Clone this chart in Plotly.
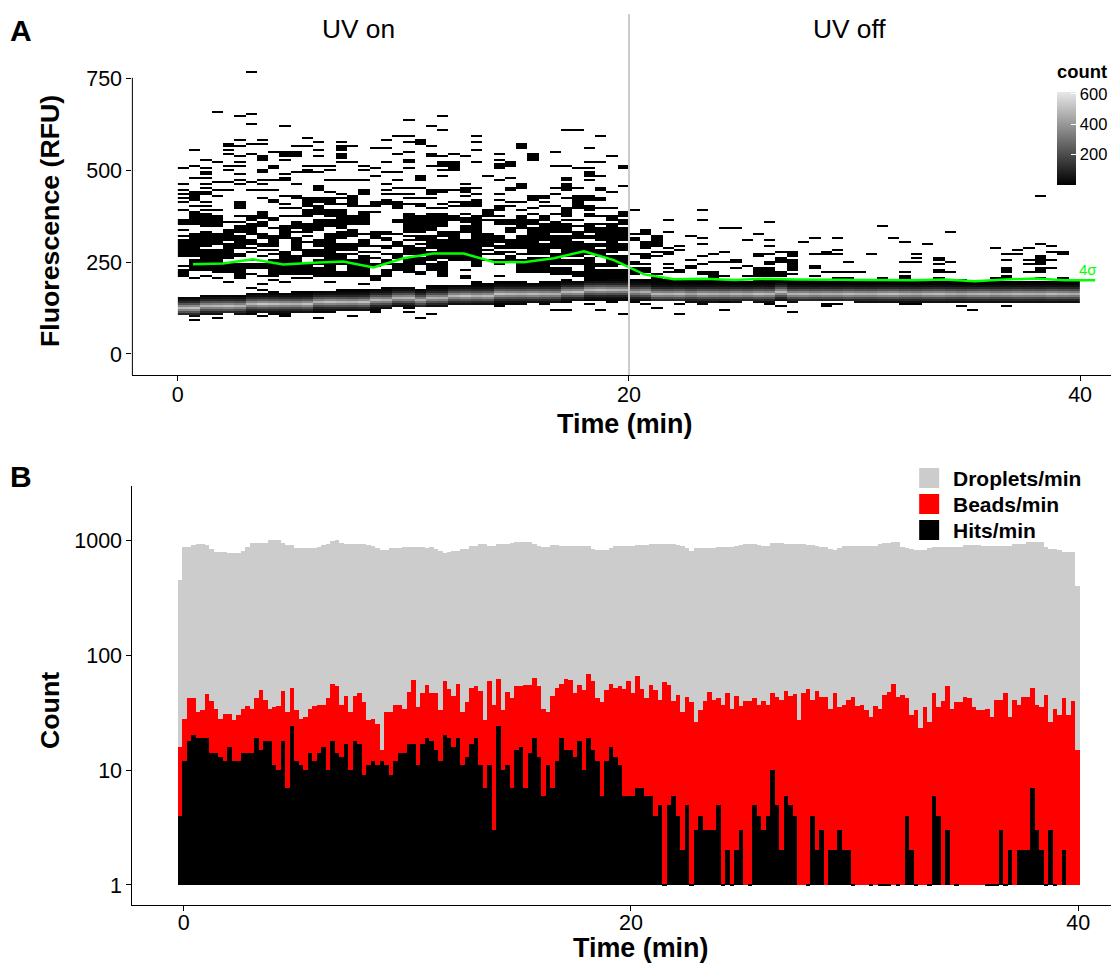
import plotly.graph_objects as go

W, H = 1112, 964
FONT = "Liberation Sans"

# ---------- Panel A data: 0.5-min columns, RFU readings of isolated cells (single value or (high, low) run)
column_minutes = 0.5
rfu_bin = 5.4545
sparse_cells = [
 [507,461,449,436,425,413,395,(365,355),337,323,(312,290),(283,265),240,230,(222,215)],
 [556,515,481,(442,418),402,(388,366),(360,352),(325,288),(283,265),(256,228),208,103,93],
 [530,505,(495,490),478,462,452,(442,435),415,405,395,(382,362),(356,350),(330,295),(285,262),(255,228),215],
 [662,526,470,449,431,395,(378,350),(328,300),(285,255),(252,225),208,100],
 [575,565,555,545,515,500,470,449,358,(338,310),300,(292,262),(248,222),195],
 [647,581,565,541,526,511,489,476,465,(415,398),375,360,(347,330),(320,290),(275,265),(245,205)],
 [768,652,627,572,547,470,445,(375,365),(355,343),(337,325),(311,302),290,279,258,(247,234),220,178],
 [581,572,(538,529),(502,494),476,461,449,425,(388,373),(360,347),(325,315),(300,292),282,265,(243,233),215,190,173,103],
 [552,515,506,476,449,(422,415),(373,365),343,(320,297),286,274,(256,238),(232,215),202],
 [622,(552,542),531,490,(482,474),431,411,397,375,(347,318),(279,262),(256,247),(238,220),199,103],
 [565,(549,538),497,465,(431,425),397,379,(360,343),333,(318,300),(293,282),(265,243),(238,220),208],
 [591,565,515,(503,495),(425,406),(393,379),(356,333),322,306,(282,265),247,(238,220),206,167],
 [576,554,538,511,497,(458,447),(425,415),(402,384),(365,338),(311,293),(283,265),(256,243),(233,215),167,97],
 [513,504,474,443,(425,410),(393,379),(365,347),(329,315),(311,290),(284,275),(265,247),(238,215),195],
 [576,(567,558),(543,534),522,474,435,424,409,(394,374),(370,343),(333,318),(300,283),(270,256),247,(222,211)],
 [565,522,474,431,(425,406),(375,352),(338,320),(300,283),274,(256,247),(238,210),103],
 [515,504,474,(447,438),403,(388,374),(370,352),329,(311,293),279,(265,247),(238,220),211,190],
 [561,506,485,(415,403),385,(333,315),297,279,261,(247,238),(211,202),115],
 [581,561,522,497,465,447,435,(421,411),(333,327),(315,311),(297,288),270,(256,247),(229,220),215],
 [597,547,497,474,451,434,(413,400),(365,358),329,(306,293),(274,261),(247,227)],
 [636,597,576,552,(531,522),506,454,435,424,409,(384,370),(364,356),(349,333),324,311,(297,270),(260,240),(234,225),115],
 [(582,572),(485,476),454,424,(411,404),(379,362),(356,333),(324,311),302,(288,270),(264,247),(224,218),97],
 [620,565,(547,540),515,(447,438),427,400,(384,366),(360,338),(324,306),(300,288),(279,256),(247,229),108],
 [647,611,540,(522,515),500,485,(447,440),410,397,(384,373),(363,347),(333,320),(311,302),(293,275),(269,261),(252,235),(229,215)],
 [547,(526,503),447,415,402,(379,365),(333,300),(294,256)],
 [540,465,(451,443),433,(415,406),384,(370,361),(347,333),(311,275),(265,256),229,(215,206)],
 [597,576,556,526,454,438,(420,404),(379,347),(343,325),(320,315),(311,284),(279,238)],
 [485,(393,379),365,(325,315),(311,293),283,270,256],
 [547,531,(517,506),474,438,422,(406,393),379,(365,352),(322,306),(297,288),(279,270),(256,247),213],
 [(522,511),479,(454,449),415,402,(365,352),(343,333),(311,288),279,(265,252)],
 [(572,561),(461,452),415,395,(379,361),(352,343),(324,306),(300,288),270,256,(247,225)],
 [(543,531),(429,420),397,384,(365,352),(343,329),(322,300),(294,275),(260,225)],
 [(433,426),415,406,(379,365),(352,338),(333,311),(302,275),(260,225)],
 [549,515,454,438,406,384,(360,333),(324,288),(274,247),(233,220),197,122],
 [612,515,(482,472),(461,447),426,(397,374),364,(352,333),(324,296),(290,266),(256,243),(233,220),203,143,118],
 [612,506,454,(429,420),(412,397),367,347,(333,315),(306,266),(256,247),(225,210)],
 [561,526,506,(497,484),474,(429,420),(402,393),(384,374),(356,333),(324,315),(300,270),(264,202),136],
 [597,522,485,(454,447),(425,418),397,375,356,(343,311),(302,293),(284,266),(247,238),(229,202),122],
 [541,440,397,(375,365),(352,333),(329,300),(294,279),(265,238),(229,202),143],
 [(515,506),458,(388,374),(365,356),(343,311),(302,284),(265,247),(229,202),108],
 [390,326,(315,309),274,(250,245),(234,218)],
 [(336,325),(306,291),(270,263),245,(234,226),202,138],
 [(320,313),(306,297),279,265,218,127],
 [365,335,288,(279,273),245,234,224],
 [293,284,(229,222),138,108],
 [320,259,(241,232)],
 [395,365,315,300,268,243,(225,218)],
 [270,250,(225,206)],
 [345,279,250,215,142,118],
 [345,(259,250),234],
 [309,240,213],
 [325,(275,268),(235,215),202],
 [360,309,295,274,(250,243),(233,215),138],
 [279,(260,249),(225,210),129],
 [(276,268),(256,228),220,142,113],
 [305],
 [315,274,(241,232),214],
 [(279,273),224,(138,132)],
 [315,284,274,224,208,134],
 [250,224,208],
 [224],
 [270],
 [350,(209,202)],
 [314],
 [304,250,224,(215,203),139],
 [274,264,250,139],
 [300,140],
 [264,254,243,(230,221),209],
 [330,250,224],
 [204,129],
 [140,118],
 [],
 [290,209],
 [274,259,(236,226),(214,206),133],
 [283,270],
 [290,259,244,224],
 [430,300,(265,243),(233,226),209],
 [294,279,259,233],
 [279,270,209],
 [],
]

# Main droplet band, per 0.5-min column (RFU)
band_center = [127,127,129,129,131,131,136,134,136,136,138,138,141,141,143,143,143,147,147,150,
               150,149,155,155,156,156,156,158,161,163,163,163,165,165,170,170,173,175,175,175,
               170,170,165,164,165,163,163,165,165,163,165,164,164,170,163,162,165,165,165,165,
               165,165,165,164,165,165,166,165,165,164,165,165,165,165,165,164,165,165,165,165]
band_top = [150,150,156,156,156,156,161,165,167,161,167,164,170,170,173,176,173,175,179,182,
            179,176,184,184,185,188,197,193,194,194,194,191,194,194,194,196,196,197,200,200,
            200,197,206,202,202,202,203,202,200,202,195,197,202,202,202,202,202,202,202,202,
            197,197,197,197,197,197,197,197,197,197,197,197,197,197,197,197,197,197,197,197]
band_bottom = [111,106,111,111,114,111,111,115,111,111,115,115,115,115,121,121,121,120,124,129,
               125,129,131,131,134,136,138,138,131,138,138,143,138,143,143,147,147,147,149,147,
               143,147,147,147,145,143,138,143,147,143,147,143,143,145,143,147,147,147,147,147,
               142,142,142,142,142,142,142,142,142,142,142,142,142,142,142,142,142,142,142,142]
band_peak = [490,510,470,480,500,470,480,520,500,480,470,510,470,500,480,470,500,480,460,470,
             480,450,470,460,480,510,470,490,500,480,470,490,470,460,480,500,470,490,470,460,
             420,460,480,470,490,430,480,470,450,480,460,500,480,490,470,480,450,470,460,490,
             470,460,490,500,470,450,480,490,460,440,470,480,450,460,480,470,460,490,470,450]
band_profile = {0:1.0, 1:0.72, -1:0.72, 2:0.45, -2:0.45, 3:0.22, -3:0.22, 4:0.09, -4:0.09, 5:0.03, -5:0.03}

# 4-sigma threshold (time in min, RFU)
sigma_time = [0.67,2,3.33,4.67,6,7.33,8.67,10,11.33,12.67,14,15.33,16.67,18,19.33,20.67,22,23.33,24.67,26,
              27.33,28.67,30,31.33,32.67,34,35.33,36.67,38,39.33,40.67]
sigma_rfu = [245,247,258,244,249,252,236,261,274,274,251,250,261,280,256,217,204,205,202,205,
             203,202,201,201,201,203,198,203,206,201,201]

# ---------- Panel B data: counts per 0.2-min bin
droplets = [447,875,875,905,923,923,905,830,791,791,780,776,776,776,807,875,948,948,948,948,
            993,993,993,935,905,905,860,847,847,847,860,863,905,923,980,993,935,917,917,917,
            917,917,905,893,860,818,818,847,847,847,863,863,863,863,863,850,863,830,800,776,
            780,807,807,830,840,880,893,917,917,880,880,917,917,925,950,967,967,967,967,920,
            893,863,863,905,905,893,893,893,893,893,893,893,840,818,818,818,860,887,887,887,
            887,887,900,900,900,923,923,923,923,923,915,905,880,847,807,847,847,847,847,860,
            863,863,863,863,880,905,923,923,923,900,887,887,935,935,935,925,923,923,923,917,
            905,905,880,863,863,830,818,847,895,895,895,895,895,895,895,895,920,935,935,960,
            967,875,860,835,825,825,825,860,875,875,875,863,863,863,870,905,905,905,905,893,
            893,887,887,887,887,887,923,923,923,955,955,955,955,870,840,830,825,791,791,791,400]
beads = [16,28,42,42,32,33,46,40,34,28,31,31,27,30,34,36,34,42,50,41,
         34,35,36,49,32,52,33,28,29,34,36,37,37,42,56,54,37,44,32,44,
         47,39,27,28,25,15,32,32,37,37,34,48,61,35,47,55,47,47,33,60,
         51,44,56,32,39,52,54,49,27,59,37,62,33,48,42,54,54,55,55,63,
         54,34,32,44,52,56,62,61,47,55,50,69,60,42,39,50,56,52,54,51,
         60,47,66,51,42,55,50,41,58,55,40,45,32,43,39,26,33,40,48,41,
         42,37,47,34,44,36,40,40,42,37,40,37,47,43,41,49,44,46,27,47,
         51,41,49,43,43,34,47,35,37,41,43,36,37,33,29,36,34,45,48,56,
         43,45,42,30,33,23,35,26,47,35,40,54,34,39,39,43,42,35,33,33,
         34,29,41,41,47,29,41,37,43,43,52,37,35,45,26,34,30,42,30,40,15]
hits = [4,12,18,20,19,19,19,14,14,13,12,16,12,12,14,14,14,19,15,18,
        18,11,10,18,7,24,12,11,10,14,12,14,16,10,18,14,13,17,10,18,
        17,9,11,12,11,12,11,9,12,14,14,17,17,11,17,19,18,15,12,20,
        19,16,19,11,13,17,19,11,7,11,3,24,10,11,7,15,16,7,14,19,
        13,6,11,7,12,19,15,15,13,18,10,19,15,12,6,12,16,13,11,6,
        6,6,7,7,6,6,4,5,1,5,6,4,2,5,1,3,4,3,3,3,
        5,1,2,1,2,3,0,1,5,4,3,4,10,5,2,6,5,4,0,0,
        1,4,2,3,0,2,2,3,2,2,1,0,0,0,1,0,1,1,1,0,
        1,0,4,2,1,0,0,1,6,4,0,3,0,1,0,0,0,0,0,0,
        1,1,1,3,1,2,0,2,2,2,7,3,2,1,3,1,0,2,0,0,0]

series_labels = ["Droplets/min", "Beads/min", "Hits/min"]
series_colors = ["#CCCCCC", "#FF0000", "#000000"]
ticks_rfu = [0, 250, 500, 750]
ticks_time = [0, 20, 40]
ticks_count = [1, 10, 100, 1000]
ticks_bar = [200, 400, 600]

# ---------- build the heatmap matrix
n_cols = len(sparse_cells)
n_rows = 146
z = [[None] * n_cols for _ in range(n_rows)]
for c, cells in enumerate(sparse_cells):
    for cell in cells:
        hi, lo = cell if isinstance(cell, tuple) else (cell, cell)
        for r in range(round(lo / rfu_bin), round(hi / rfu_bin) + 1):
            z[r][c] = 1
for c in range(n_cols):
    for r in range(round(band_bottom[c] / rfu_bin), round(band_top[c] / rfu_bin) + 1):
        off = r - round(band_center[c] / rfu_bin)
        z[r][c] = max(2, band_peak[c] * band_profile.get(off, 0))
col_mid = [(c + 0.5) * column_minutes for c in range(n_cols)]
row_mid = [r * rfu_bin for r in range(n_rows)]

def px(x):
    return x / W
def py(y):
    return 1 - y / H

fig = go.Figure()
fig.add_trace(go.Heatmap(
    x=col_mid, y=row_mid, z=z, xaxis="x", yaxis="y", zmin=0, zmax=612, zsmooth=False,
    hoverongaps=False, colorscale=[[0, "#000000"], [1, "#E8E8E8"]],
    colorbar=dict(
        x=px(1057), xanchor="left", xpad=0, y=py(92), yanchor="top", ypad=0,
        thickness=19, thicknessmode="pixels", len=93, lenmode="pixels",
        outlinewidth=0, tickvals=ticks_bar, ticks="inside", ticklen=5, tickwidth=1, tickcolor="#FFFFFF",
        tickprefix="\u00a0",
        tickfont=dict(family=FONT, size=16.5, color="#000"),
    ),
))
fig.add_trace(go.Scatter(x=sigma_time, y=sigma_rfu, mode="lines", xaxis="x", yaxis="y",
                         line=dict(color="#00FF00", width=2.5), showlegend=False))

bar_start, bar_width = -0.255, 0.2007
for values, name, color in zip([droplets, beads, hits], series_labels, series_colors):
    fig.add_trace(go.Bar(
        x0=bar_start + bar_width / 2, dx=bar_width, width=bar_width,
        y=[(v - 0.99) if v > 0 else None for v in values], base=0.99,
        xaxis="x2", yaxis="y2", name=name, marker=dict(color=color, line=dict(width=0)),
        showlegend=False))

axis_common = dict(showgrid=False, zeroline=False, ticks="outside", ticklen=5, tickwidth=1, tickcolor="#000",
                   showline=True, linecolor="#000", linewidth=1,
                   tickfont=dict(family=FONT, size=21.5, color="#000"))
fig.update_layout(
    width=W, height=H, margin=dict(l=0, r=0, t=0, b=0), autosize=False,
    paper_bgcolor="white", plot_bgcolor="white", showlegend=False,
    barmode="overlay", bargap=0,
    xaxis=dict(domain=[px(132.5), 1], range=[-2.016, 41.37], tickvals=ticks_time, anchor="y",
               ticklabelstandoff=-5, **axis_common),
    yaxis=dict(domain=[py(375), py(14)], range=[-57.3, 927], tickvals=ticks_rfu, anchor="x",
               **{**axis_common, "showline": False}),
    xaxis2=dict(domain=[px(132.5), 1], range=[-2.302, 41.47], tickvals=ticks_time, anchor="y2",
                ticklabelstandoff=-7, **axis_common),
    yaxis2=dict(domain=[py(905), py(486)], type="log", range=[-0.174, 3.47], tickvals=ticks_count,
                ticktext=[str(t) for t in ticks_count], anchor="x2", **axis_common),
)

shapes = [
    dict(type="line", xref="x", yref="y", x0=20, x1=20, y0=-57.3, y1=927,
         line=dict(color="#CCCCCC", width=2), layer="above"),
    dict(type="line", xref="paper", yref="y", x0=px(132.5), x1=px(132.5), y0=-57.3, y1=753,
         line=dict(color="#000", width=1)),
]
for t in ticks_bar:
    shapes.append(dict(type="line", xref="paper", yref="paper", x0=px(1057), x1=px(1062),
                       y0=py(185 - t * 0.1515), y1=py(185 - t * 0.1515),
                       line=dict(color="#FFFFFF", width=1)))
for row, color in zip([478, 504, 530], series_colors):
    shapes.append(dict(type="rect", xref="paper", yref="paper", x0=px(920), x1=px(940),
                       y0=py(row - 10), y1=py(row + 10), fillcolor=color, line=dict(width=0)))

def note(text, x, y, size, bold=False, angle=0, anchor="center", color="#000"):
    return dict(text=f"<b>{text}</b>" if bold else text, xref="paper", yref="paper", x=px(x), y=py(y),
                xanchor=anchor, yanchor="middle", showarrow=False, textangle=angle,
                font=dict(family=FONT, size=size, color=color))

annotations = [
    note("A", 21, 30, 30, True), note("B", 21, 476, 30, True),
    note("UV on", 359, 29, 26.3), note("UV off", 850, 29, 26.3),
    note("Fluorescence (RFU)", 50, 221, 26.7, True, -90),
    note("Time (min)", 625.5, 424, 26.9, True),
    note("Count", 50, 710, 26.7, True, -90),
    note("Time (min)", 641, 948, 26.9, True),
    note("4σ", 1089, 269, 15, color="#00FF00"),
    note("count", 1083, 72, 18.4, True),
]
for row, label in zip([478, 504, 530], series_labels):
    annotations.append(note(label, 952, row, 21, True, anchor="left"))
fig.update_layout(shapes=shapes, annotations=annotations)

fig.write_html("out.html", config={"displayModeBar": False},
               post_script="document.body.style.margin='0';")
